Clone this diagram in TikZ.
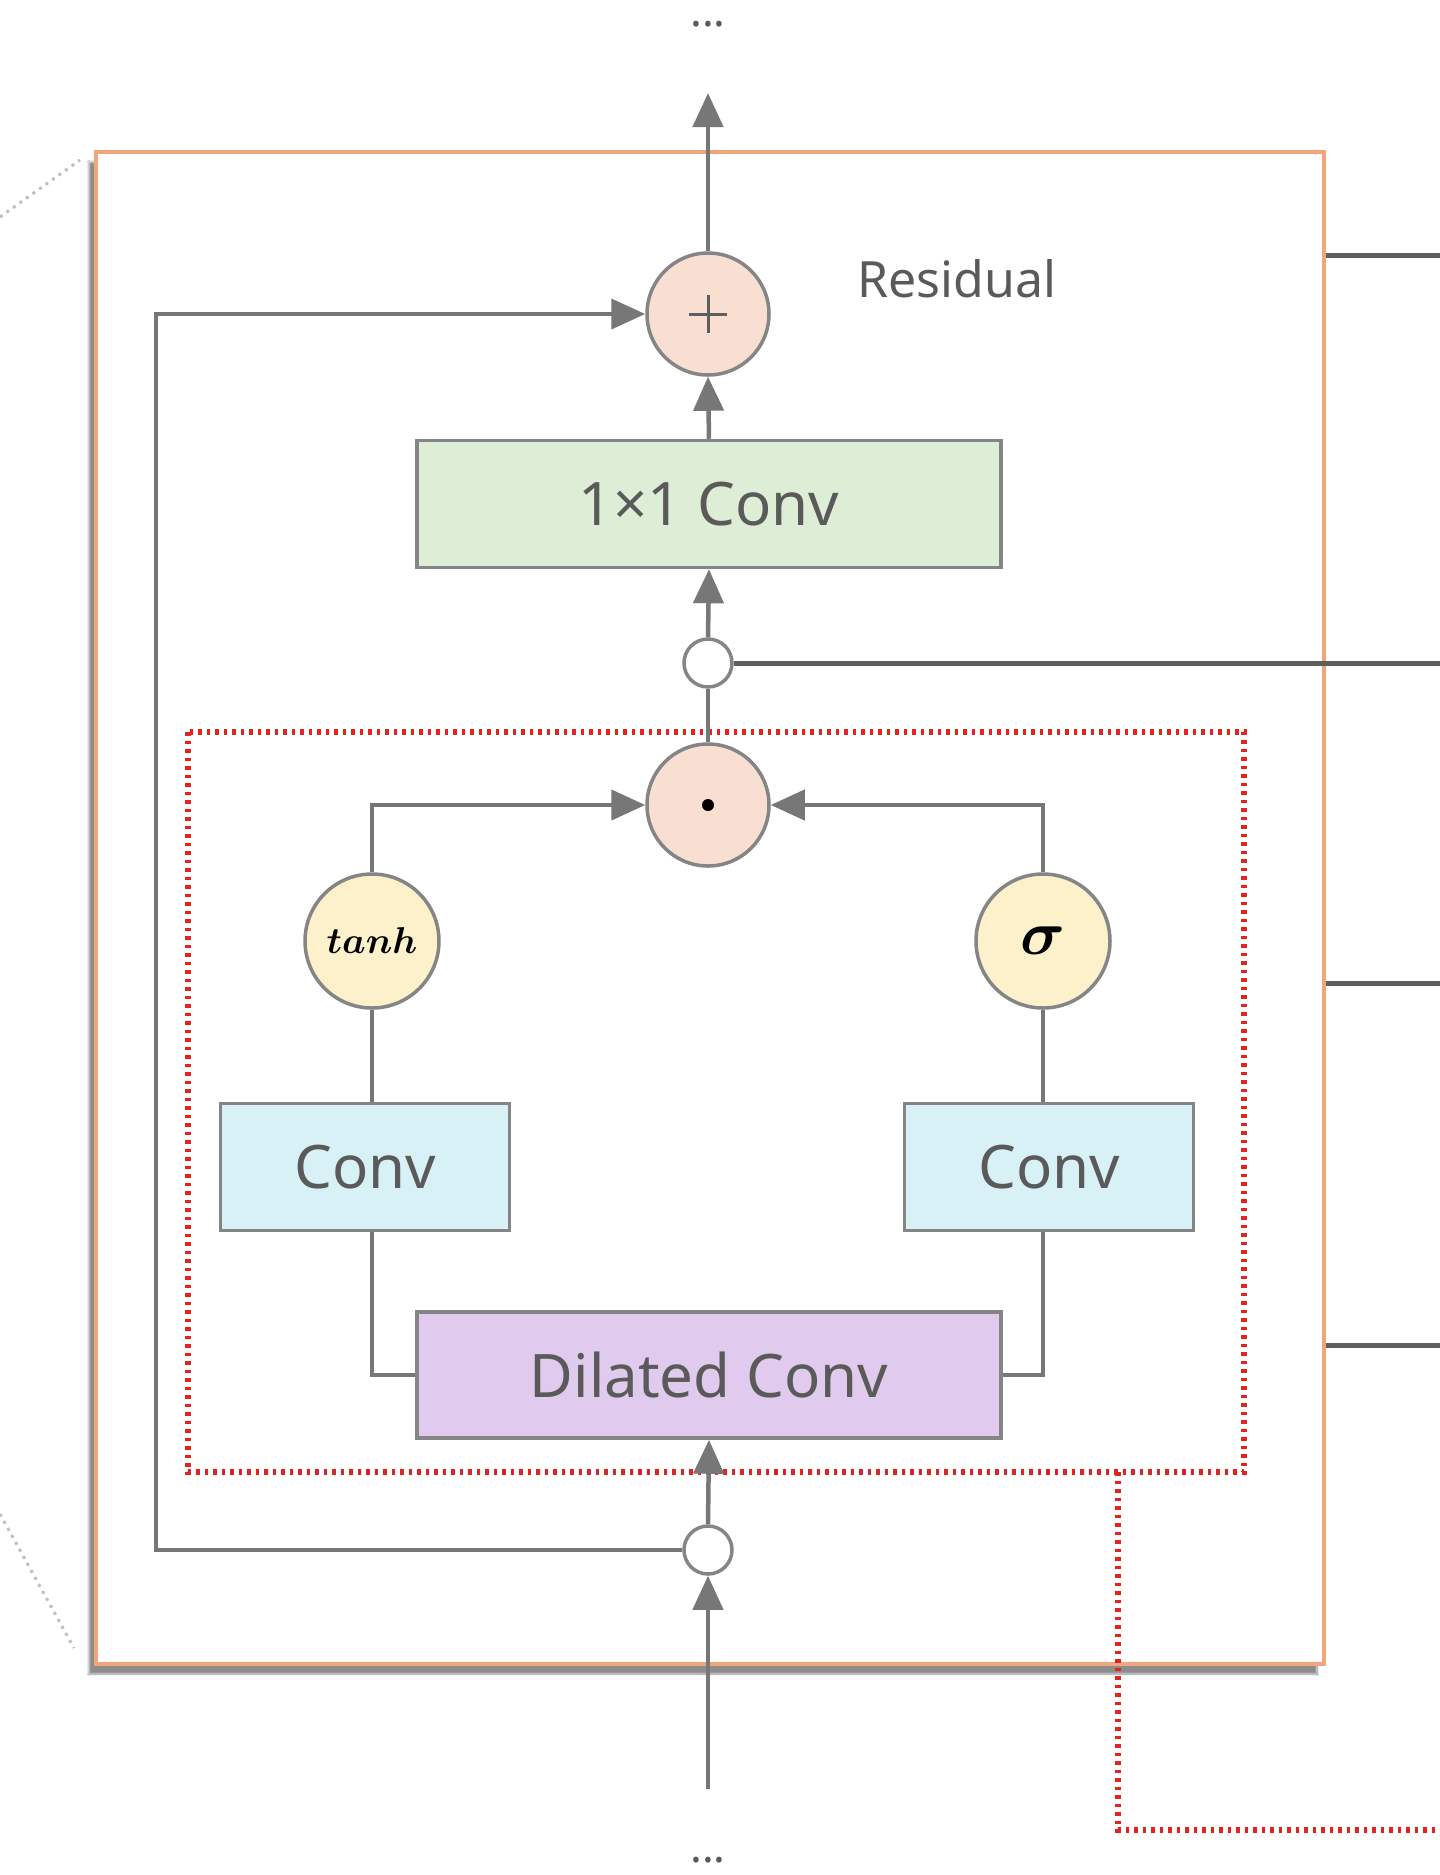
\documentclass[tikz,border=0pt]{standalone}
\usepackage{fontspec}
\setsansfont{Noto Sans}
\usepackage{bm}
\usetikzlibrary{arrows.meta,shadows.blur}
\definecolor{lineg}{HTML}{777777}
\definecolor{bordg}{HTML}{858585}
\definecolor{darkl}{HTML}{5E5E5E}
\definecolor{txtg}{HTML}{5A5A5A}
\definecolor{peach}{HTML}{F8DFD2}
\definecolor{yell}{HTML}{FDF1CB}
\definecolor{greenf}{HTML}{DEEDD6}
\definecolor{bluef}{HTML}{D8F1F7}
\definecolor{purpf}{HTML}{E0CBEF}
\definecolor{orng}{HTML}{F2A57A}
\definecolor{redd}{HTML}{E3231F}
\begin{document}
\begin{tikzpicture}[x=1pt,y=-1pt,
  conn/.style={draw=lineg, line width=4.5pt},
  arr/.style={conn, -{Triangle[length=34pt,width=30pt]}},
  opcirc/.style={circle, draw=bordg, line width=3.5pt, fill=peach, minimum size=122pt, inner sep=0pt},
  actcirc/.style={circle, draw=bordg, line width=3.5pt, fill=yell, minimum size=134pt, inner sep=0pt},
  junc/.style={circle, draw=bordg, line width=3.5pt, fill=white, minimum size=48pt, inner sep=0pt},
  box/.style={rectangle, draw=bordg, line width=3.5pt, inner sep=0pt, text=txtg, font=\sffamily\fontsize{60}{70}\selectfont},
  reddot/.style={draw=redd, line width=5.5pt, dash pattern=on 3.5pt off 5pt},
  greydot/.style={draw=black!25, line width=3pt, dash pattern=on 3pt off 5pt},
  outl/.style={draw=darkl, line width=5pt},
  dots/.style={text=txtg, font=\sffamily\fontsize{44}{50}\selectfont, inner sep=0pt, anchor=base, text height=6pt, text depth=0pt}
]
\useasboundingbox (0,0) rectangle (1440,1875);
\fill[white] (0,0) rectangle (1440,1875);

% perspective hints on the left
\draw[greydot] (0,217) -- (80,160);
\draw[greydot] (0,1514) -- (74,1648);

% outer residual block
\draw[draw=orng, line width=4pt, fill=white,
      blur shadow={shadow xshift=-7pt, shadow yshift=-10pt, shadow blur steps=12, shadow opacity=45}]
  (96,152) rectangle (1324,1664);

% gated activation region
\draw[reddot] (188,732) rectangle (1244,1472);
\draw[reddot] (1118,1472) -- (1118,1830) -- (1440,1830);

% nodes
\node[opcirc] (plus) at (708,314) {};
\node[text=txtg, font=\sffamily\fontsize{50}{60}\selectfont, inner sep=0pt] (res) at (957,279) {Residual};
\node[box, fill=greenf, minimum width=584pt, minimum height=127pt] (conv1) at (709,504) {1×1 Conv};
\node[junc] (skipc) at (708,663) {};
\node[opcirc] (dot) at (708,805) {};
\node[actcirc] (tanhc) at (372,941) {\scalebox{1.8}{\fontsize{20}{24}\selectfont$\bm{tanh}$}};
\node[actcirc] (sigc) at (1043,941) {\scalebox{3}{\fontsize{20}{24}\selectfont$\bm{\sigma}$}};
\node[box, fill=bluef, minimum width=289pt, minimum height=127pt] (convL) at (365,1167) {Conv};
\node[box, fill=bluef, minimum width=289pt, minimum height=127pt] (convR) at (1049,1167) {Conv};
\node[box, fill=purpf, minimum width=584pt, minimum height=126pt] (dil) at (709,1375) {Dilated Conv};
\node[junc] (inc) at (708,1550) {};
\node[dots] (dtop) at (708,26) {...};
\node[dots] (dbot) at (708,1862) {...};

% symbols inside operators
\draw[draw=darkl, line width=3pt] (plus.center) ++(-19,0) -- ++(38,0);
\draw[draw=darkl, line width=3pt] (plus.center) ++(0,-19) -- ++(0,38);
\fill[black] (dot.center) circle (6);

% coordinates
\coordinate (outtop) at (708,93);
\coordinate (inbot) at (708,1789);
\coordinate (loopb) at (156,1550);
\coordinate (loopt) at (156,314);
\coordinate (skipout) at (1440,663);
\coordinate (ra1) at (1326,255);  \coordinate (rb1) at (1440,255);
\coordinate (ra2) at (1326,983);  \coordinate (rb2) at (1440,983);
\coordinate (ra3) at (1326,1345); \coordinate (rb3) at (1440,1345);

% connectors
\draw[arr] (plus.north) -- (outtop);
\draw[arr] (conv1.north) -- (plus.south);
\draw[arr] (skipc.north) -- (conv1.south);
\draw[conn] (dot.north) -- (skipc.south);
\draw[arr] (tanhc.north) |- (dot.west);
\draw[arr] (sigc.north) |- (dot.east);
\draw[conn] (tanhc.south) -- (tanhc.south |- convL.north);
\draw[conn] (sigc.south) -- (sigc.south |- convR.north);
\draw[conn] (tanhc.south |- convL.south) |- (dil.west);
\draw[conn] (sigc.south |- convR.south) |- (dil.east);
\draw[arr] (inc.north) -- (dil.south);
\draw[arr] (inbot) -- (inc.south);
\draw[arr, line width=4pt] (inc.west) -- (loopb) -- (loopt) -- (plus.west);
\draw[outl] (skipc.east) -- (skipout);
\draw[outl] (ra1) -- (rb1);
\draw[outl] (ra2) -- (rb2);
\draw[outl] (ra3) -- (rb3);
\end{tikzpicture}
\end{document}
